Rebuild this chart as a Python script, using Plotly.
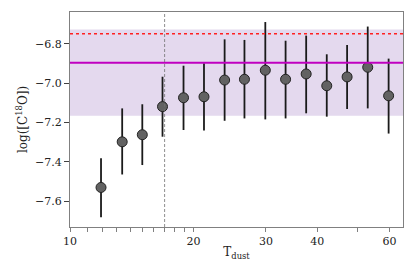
import plotly.graph_objects as go

t_dust = [11.9, 13.4, 15.0, 16.8, 18.9, 21.2, 23.8, 26.6, 29.9, 33.5, 37.6, 42.2, 47.3, 53.1, 59.7]
log_c18o = [-7.531, -7.299, -7.263, -7.120, -7.075, -7.070, -6.985, -6.981, -6.935, -6.981, -6.954, -7.014, -6.969, -6.920, -7.065]
err_top = [-7.382, -7.129, -7.108, -6.968, -6.912, -6.900, -6.778, -6.781, -6.690, -6.785, -6.759, -6.854, -6.807, -6.713, -6.876]
err_bot = [-7.683, -7.465, -7.417, -7.273, -7.239, -7.241, -7.192, -7.180, -7.185, -7.180, -7.154, -7.171, -7.132, -7.129, -7.257]

mean_level = -6.897
ref_level = -6.749
band_low, band_high = -7.166, -6.728
t_cut = 17.0

x_tickvals = [10, 11, 12, 13, 14, 15, 16, 17, 18, 19, 20, 30, 40, 50, 60]
x_ticktext = ["10", "", "", "", "", "", "", "", "", "", "20", "30", "40", "", "60"]
y_tickvals = [-7.6, -7.4, -7.2, -7.0, -6.8]

err_plus = [t - v for t, v in zip(err_top, log_c18o)]
err_minus = [v - b for v, b in zip(log_c18o, err_bot)]

fig = go.Figure()
fig.add_shape(type="rect", xref="paper", yref="y", x0=0, x1=1, y0=band_low, y1=band_high,
              fillcolor="rgba(148,103,189,0.25)", line_width=0, layer="below")
fig.add_shape(type="line", xref="paper", yref="y", x0=0, x1=1, y0=mean_level, y1=mean_level,
              line=dict(color="#c000c0", width=2))
fig.add_shape(type="line", xref="paper", yref="y", x0=0, x1=1, y0=ref_level, y1=ref_level,
              line=dict(color="#ff2020", width=1.5, dash="dot"))
fig.add_shape(type="line", xref="x", yref="paper", x0=t_cut, x1=t_cut, y0=0, y1=1,
              line=dict(color="#707070", width=0.8, dash="3px,2px"))

fig.add_trace(go.Scatter(
    x=t_dust, y=log_c18o, mode="markers",
    marker=dict(size=10, color="#626262", line=dict(color="#222222", width=1)),
    error_y=dict(type="data", symmetric=False, array=err_plus, arrayminus=err_minus,
                 color="#1a1a1a", thickness=1.8, width=0),
    showlegend=False,
))

font = dict(family="DejaVu Serif", size=11, color="#222222")
fig.update_layout(
    width=407, height=269,
    margin=dict(l=62, r=12, t=4, b=50, autoexpand=False),
    plot_bgcolor="white", paper_bgcolor="white",
    font=font,
    xaxis=dict(type="log", range=[1.0, 1.811], tickmode="array", tickvals=x_tickvals, ticktext=x_ticktext,
               ticks="outside", ticklen=4, tickcolor="#808080", tickwidth=1,
               showgrid=False, zeroline=False, showline=True, linecolor="#808080", linewidth=1.3,
               mirror=True, automargin=False,
               title=dict(text="T<sub>dust</sub>", font=dict(family="DejaVu Serif", size=12, color="#222222"), standoff=0),
               tickfont=font),
    yaxis=dict(range=[-7.732, -6.639], tickmode="array", tickvals=y_tickvals, tickformat=".1f",
               ticks="outside", ticklen=5, tickcolor="#404040", tickwidth=1,
               showgrid=False, zeroline=False, showline=True, linecolor="#808080", linewidth=1.3,
               mirror=True, automargin=False,
               title=dict(text="log([C<sup>18</sup>O])", font=dict(family="DejaVu Serif", size=12, color="#222222"), standoff=4),
               tickfont=font),
)

fig.write_html("out.html")
